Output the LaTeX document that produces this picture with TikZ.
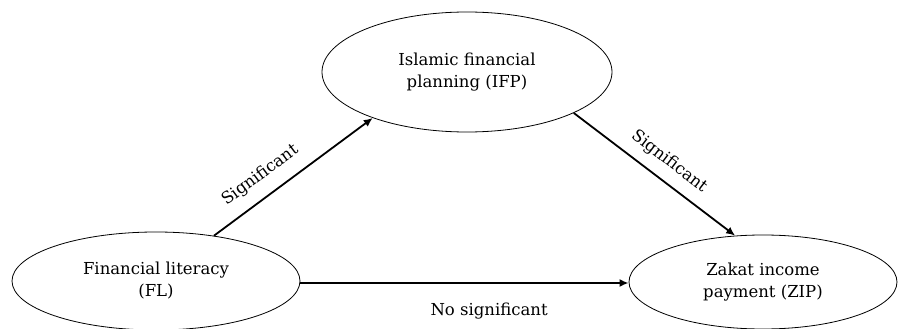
\documentclass[tikz,border=0pt]{standalone}
\usepackage{fontspec}
\setmainfont{DejaVu Serif}
\usetikzlibrary{shapes.geometric,arrows.meta}
\begin{document}
\begin{tikzpicture}[x=1pt,y=-1pt,
  oval/.style={ellipse,draw,line width=0.8pt,align=center,inner sep=0pt,font=\fontsize{16.5}{22}\selectfont},
  conn/.style={line width=1.8pt,-{Latex[length=9pt,width=8pt]}},
  lab/.style={font=\fontsize{16.5}{20}\selectfont,inner sep=0pt}]
\useasboundingbox (0,0) rectangle (898,329);
\node[oval,minimum width=288,minimum height=98] (FL) at (156,281) {Financial literacy\\(FL)};
\node[oval,minimum width=290,minimum height=120] (IFP) at (467,72) {Islamic financial\\planning (IFP)};
\node[oval,minimum width=268,minimum height=94] (ZIP) at (763,282) {Zakat income\\payment (ZIP)};
\draw[conn] (FL.38) -- (IFP.206) node[lab,pos=0.37,above=12pt,sloped] (s1) {Significant};
\draw[conn] (IFP.-21) -- (ZIP.121) node[lab,pos=0.52,above=10pt,sloped] (s2) {Significant};
\draw[conn] (FL.east |- 0,283) coordinate (a) -- (ZIP.west |- 0,283) node[lab,pos=0.575,below=19pt] (s3) {No significant};
\end{tikzpicture}
\end{document}
